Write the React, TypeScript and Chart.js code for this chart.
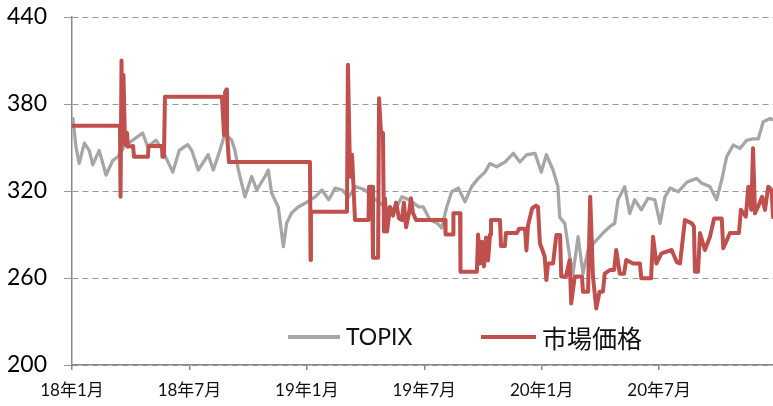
import React, { useEffect, useRef } from "react";
import { Chart, registerables } from "chart.js";

Chart.register(...registerables);

// x positions are months since Jan 2018 (0 = 18年1月)
const topixMonths = [
  0.04, 0.2, 0.37, 0.63, 0.88, 1.06, 1.39, 1.74, 2.08, 2.34, 2.67, 3.1, 3.61, 3.87, 4.29, 4.63, 5.15, 5.48, 5.91,
  6.12, 6.45, 6.96, 7.22, 7.56, 7.82, 8.16, 8.33, 8.5, 8.84, 9.18, 9.44, 9.86, 10.03, 10.2, 10.54, 10.8, 10.97,
  11.23, 11.56, 11.91, 12.16, 12.43, 12.77, 13.12, 13.45, 13.8, 14.14, 14.48, 14.99, 15.5, 16.01, 16.52, 16.86,
  17.21, 17.72, 17.95, 18.29, 18.64, 18.89, 19.15, 19.4, 19.74, 20.08, 20.42, 20.76, 21.1, 21.36, 21.7, 22.13,
  22.55, 22.89, 23.23, 23.66, 23.98, 24.24, 24.58, 24.83, 24.92, 25.18, 25.43, 25.6, 25.86, 26.11, 26.37, 26.79,
  27.13, 27.48, 27.73, 27.9, 28.24, 28.5, 28.75, 29.09, 29.43, 29.78, 30.05, 30.3, 30.56, 30.98, 31.41, 31.92,
  32.18, 32.6, 32.94, 33.2, 33.45, 33.79, 34.13, 34.48, 34.81, 35.07, 35.32, 35.67, 35.82,
];
const topixValues = [
  371, 350.6, 339, 353, 348, 338, 348, 331, 341, 343.6, 350.6, 355, 360, 350.6, 355, 348, 333, 348, 352,
  348, 334.5, 345, 334.5, 348, 360, 355, 348, 334.5, 316, 330, 320.7, 330, 334.5, 318.6, 309, 281.6, 298,
  305, 309, 311.5, 313.8, 316, 320.7, 314, 322, 320.7, 316, 323, 320.7, 314, 309, 307, 316,
  314, 309, 309, 300, 298, 294.5, 309, 319.5, 322, 312.6, 323, 328.7, 333, 339, 336.7, 340,
  346, 340, 345, 346, 333, 345, 334.5, 323, 302, 297.7, 275, 263, 288.5, 263, 279.3, 286,
  291, 295.4, 297.7, 314, 323, 304.6, 314, 307, 315, 314, 297.7, 316, 322, 319.5, 326, 328.7,
  325.3, 323, 314, 327.6, 343.6, 351.7, 349.4, 355, 356, 356, 367.8, 370, 369,
];

const marketMonths = [
  0, 2.45, 2.48, 2.53, 2.58, 2.63, 2.71, 2.81, 2.86, 3.12, 3.17, 3.88, 3.91, 4.6, 4.62, 4.7, 4.75, 7.66, 7.77,
  7.82, 7.89, 7.92, 8.02, 12.16, 12.19, 12.21, 14.05, 14.1, 14.21, 14.31, 14.46, 15.15, 15.18, 15.33, 15.38,
  15.64, 15.69, 15.79, 15.89, 15.94, 15.99, 16.1, 16.25, 16.4, 16.56, 16.71, 16.86, 16.96, 17.07, 17.22, 17.32,
  17.42, 17.58, 19.06, 19.09, 19.47, 19.49, 19.83, 19.85, 20.69, 20.75, 20.85, 20.95, 21.05, 21.16, 21.26,
  21.36, 21.41, 21.87, 21.92, 22.12, 22.17, 22.74, 22.84, 23.15, 23.22, 23.3, 23.51, 23.71, 23.81, 23.91,
  24.15, 24.24, 24.32, 24.58, 24.75, 24.94, 25.0, 25.24, 25.43, 25.51, 25.69, 26.06, 26.11, 26.37, 26.48,
  26.62, 26.79, 26.96, 27.13, 27.22, 27.48, 27.7, 27.81, 27.99, 28.21, 28.32, 28.67, 29.02, 29.09, 29.59,
  29.69, 29.86, 30.12, 30.64, 30.9, 31.07, 31.32, 31.67, 31.78, 31.83, 31.99, 32.09, 32.34, 32.6, 32.81,
  33.2, 33.28, 33.62, 34.08, 34.18, 34.43, 34.56, 34.71, 34.8, 34.9, 35.13, 35.26, 35.41, 35.58, 35.75, 35.82,
];
const marketValues = [
  365, 365, 316, 410, 355, 400, 352, 360, 350.6, 351, 343.6, 343.6, 351, 351, 343.6, 343.6, 385, 385, 358.6,
  388, 390, 360, 340, 340, 272.4, 305.7, 305.7, 407, 330, 345, 300, 300, 323, 323, 274,
  274, 384, 360, 360, 292, 315, 292, 309, 303, 312, 301, 300, 312, 295, 305, 315,
  305, 300, 300, 290, 290, 304.6, 304.6, 264.3, 264.3, 290, 270, 285, 268, 288, 272,
  290, 300, 300, 282, 282, 291, 291, 294, 294, 279, 296, 308, 310, 309, 284,
  275, 258.6, 270, 270, 289.7, 289.7, 261, 261, 272.4, 242.5, 261, 261, 250.6, 250.6, 316,
  261, 239, 250.6, 250.6, 263, 265.5, 265.5, 279.3, 263, 263, 272.4, 270, 270, 259.8, 259.8,
  288.5, 270, 277, 279.3, 271, 270, 300, 297.7, 295.4, 264.3, 264.3, 291, 279.3, 288.5, 301,
  301, 280.5, 291, 291, 307, 302.3, 323, 307, 349.4, 304.6, 311.5, 316, 307, 323, 320.7, 302,
];

const seriesNames = ["TOPIX", "市場価格"];
const tickMonths = [0, 6, 12, 18, 24, 30];
const tickLabels = ["18年1月", "18年7月", "19年1月", "19年7月", "20年1月", "20年7月"];

const GRAY = "#A6A6A6";
const RED = "#C0504D";
const AXIS = "#888888";
const FONT = "Lato, 'Noto Sans CJK JP', sans-serif";

const insideLegend = {
  id: "insideLegend",
  afterDraw(chart: any) {
    const { ctx, chartArea } = chart;
    const y = chartArea.bottom - 28;
    const items = [
      { label: seriesNames[0], color: GRAY, x0: 288, x1: 340, tx: 346, font: `23px ${FONT}` },
      { label: seriesNames[1], color: RED, x0: 481, x1: 536, tx: 542, font: `25px 'Noto Sans CJK JP', sans-serif` },
    ];
    ctx.save();
    for (const it of items) {
      ctx.beginPath();
      ctx.strokeStyle = it.color;
      ctx.lineWidth = 4;
      ctx.moveTo(it.x0, y);
      ctx.lineTo(it.x1, y);
      ctx.stroke();
      ctx.font = it.font;
      ctx.fillStyle = "#111";
      ctx.textBaseline = "middle";
      ctx.textAlign = "left";
      ctx.fillText(it.label, it.tx, y + 1);
    }
    ctx.restore();
  },
};

export default function App() {
  const ref = useRef<HTMLCanvasElement | null>(null);
  useEffect(() => {
    if (!ref.current) return;
    const chart = new Chart(ref.current, {
      type: "line",
      data: {
        datasets: [
          {
            label: seriesNames[1],
            data: marketMonths.map((m, i) => ({ x: m, y: marketValues[i] })),
            borderColor: RED,
            borderWidth: 4,
            pointRadius: 0,
            borderJoinStyle: "round",
            borderCapStyle: "round",
            tension: 0,
            order: 0,
          },
          {
            label: seriesNames[0],
            data: topixMonths.map((m, i) => ({ x: m, y: topixValues[i] })),
            borderColor: GRAY,
            borderWidth: 3.3,
            pointRadius: 0,
            borderJoinStyle: "round",
            tension: 0,
            order: 1,
          },
        ],
      },
      options: {
        animation: false,
        responsive: true,
        maintainAspectRatio: false,
        layout: { padding: { top: 17, right: 0, bottom: 0, left: 0 } },
        plugins: { legend: { display: false }, tooltip: { enabled: false } },
        scales: {
          x: {
            type: "linear",
            min: 0,
            max: 35.82,
            afterBuildTicks: (axis: any) => {
              axis.ticks = tickMonths.map((v) => ({ value: v }));
            },
            afterFit: (s: any) => {
              s.height = 41;
              s.paddingRight = 0;
            },
            ticks: {
              autoSkip: false,
              maxRotation: 0,
              padding: 10,
              color: "#111",
              font: { family: FONT, size: 17 },
              callback: (v: any) => {
                const i = tickMonths.indexOf(Number(v));
                return i >= 0 ? tickLabels[i] : "";
              },
            },
            grid: { drawOnChartArea: false, drawTicks: true, tickLength: 5, color: AXIS, lineWidth: 1.5 },
            border: { color: AXIS, width: 1.5 },
          },
          y: {
            min: 200,
            max: 440,
            afterFit: (s: any) => {
              s.width = 72;
              s.paddingTop = 0;
              s.paddingBottom = 0;
            },
            ticks: {
              stepSize: 60,
              padding: 17,
              color: "#000",
              font: { family: FONT, size: 23 },
            },
            grid: { color: "#999999", lineWidth: 1, tickLength: 8, drawTicks: true },
            border: { color: AXIS, width: 1.5, dash: [6, 4] },
          },
        },
      },
      plugins: [insideLegend],
    });
    return () => chart.destroy();
  }, []);
  return (
    <div style={{ position: "fixed", left: 0, top: 0, width: 773, height: 406 }}>
      <canvas ref={ref} />
    </div>
  );
}
